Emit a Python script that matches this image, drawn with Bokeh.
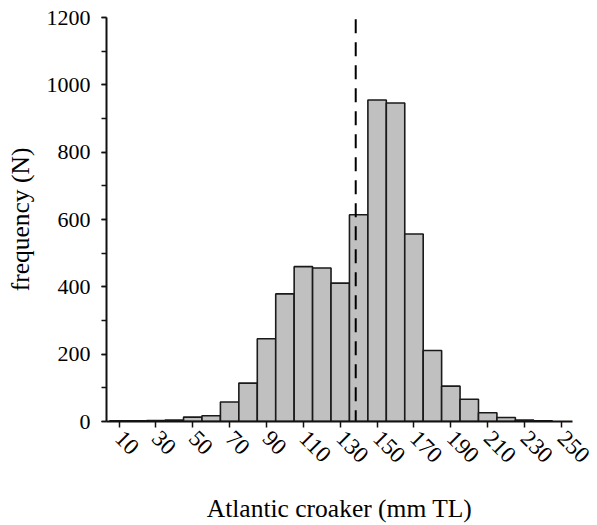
import math
from bokeh.plotting import figure
from bokeh.models import Range1d, FixedTicker, SingleIntervalTicker
from bokeh.embed import file_html
from bokeh.resources import INLINE

# Data
bin_centers = [10, 20, 30, 40, 50, 60, 70, 80, 90, 100, 110, 120, 130, 140,
               150, 160, 170, 180, 190, 200, 210, 220, 230, 240]
counts = [2, 2, 3, 4, 13, 17, 58, 114, 246, 379, 460, 456, 411, 614,
          955, 946, 557, 211, 105, 66, 26, 12, 4, 2]
bin_width = 10
mean_length = 138.4
line_top = 1195
x_ticks = [10, 30, 50, 70, 90, 110, 130, 150, 170, 190, 210, 230, 250]
y_interval = 200

FONT = "Liberation Serif"

p = figure(width=597, height=525, output_backend="svg", toolbar_location=None,
           x_range=Range1d(3.2, 256), y_range=Range1d(0, 1200),
           min_border_left=106, min_border_right=25, min_border_top=17,
           min_border_bottom=104)

p.vbar(x=bin_centers, top=counts, bottom=0, width=bin_width,
       fill_color="#c0c0c0", line_color="#1a1a1a", line_width=1.6)

p.line([mean_length, mean_length], [line_top, 0], line_dash="14 9",
       line_width=2, line_color="black")

p.grid.visible = False
p.outline_line_color = None
p.background_fill_color = "white"
p.border_fill_color = "white"

xa = p.xaxis[0]
xa.ticker = FixedTicker(ticks=x_ticks, minor_ticks=[])
xa.major_label_orientation = -math.pi / 4
xa.axis_label = "Atlantic croaker (mm TL)"
for ax in (p.xaxis[0], p.yaxis[0]):
    ax.axis_line_width = 2
    ax.axis_line_color = "#111111"
    ax.major_tick_line_width = 1.5
    ax.minor_tick_line_width = 1.5
    ax.major_tick_line_color = "#111111"
    ax.minor_tick_line_color = "#111111"
    ax.major_tick_in = 0
    ax.minor_tick_in = 0
    ax.major_label_text_font = FONT
    ax.major_label_text_font_size = "22px"
    ax.major_label_text_color = "black"
    ax.axis_label_text_font = FONT
    ax.axis_label_text_font_size = "25.5px"
    ax.axis_label_text_font_style = "normal"
    ax.axis_label_text_color = "black"

xa.major_tick_out = 6
xa.major_label_text_font_size = "23px"
xa.major_label_standoff = 7
xa.axis_label_standoff = 21

ya = p.yaxis[0]
ya.ticker = SingleIntervalTicker(interval=y_interval, num_minor_ticks=2)
ya.axis_label = "frequency (N)"
ya.major_tick_out = 5
ya.minor_tick_out = 5
ya.major_label_standoff = 11
ya.axis_label_standoff = 9

open("out.html", "w").write(file_html(p, INLINE))
